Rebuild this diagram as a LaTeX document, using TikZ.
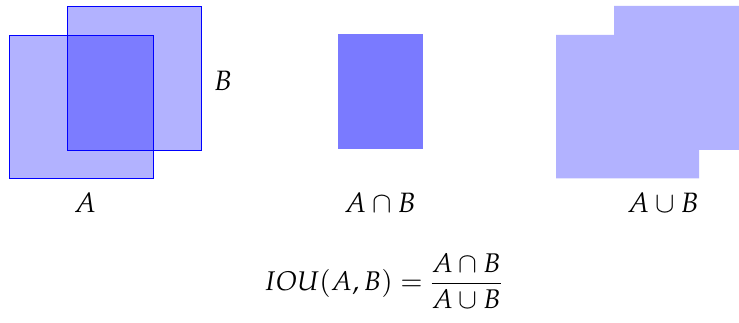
\documentclass[tikz,border=0pt]{standalone}
\usepackage{mathpazo}
\begin{document}
\begin{tikzpicture}[x=1pt,y=-1pt,
  lbl/.style={inner sep=0pt,anchor=base,font=\fontsize{28}{33}\selectfont},
  sq/.style={draw=blue,line width=0.9pt,fill=blue,fill opacity=0.3}]
\useasboundingbox (0,0) rectangle (739,323);
% A and B
\path[sq] (9.5,35) rectangle (153,178.5);
\path[sq] (67.5,6) rectangle (201.5,150);
\node[lbl] (la) at (85,213) {$A$};
\node[lbl] (lb) at (223,91) {$B$};
% intersection
\fill[blue!52] (337.5,34) rectangle (422.5,149);
\node[lbl] (li) at (380,213) {$A\cap B$};
% union
\fill[blue!30] (556,35) -- (614,35) -- (614,6) -- (748,6) -- (748,150) -- (699,150) -- (699,178.5) -- (556,178.5) -- cycle;
\node[lbl] (lu) at (663,213) {$A\cup B$};
% formula
\node[inner sep=0pt,font=\fontsize{27}{32}\selectfont] (f) at (383,281) {$\displaystyle IOU(A,B)=\frac{A\cap B}{A\cup B}$};
\end{tikzpicture}
\end{document}
